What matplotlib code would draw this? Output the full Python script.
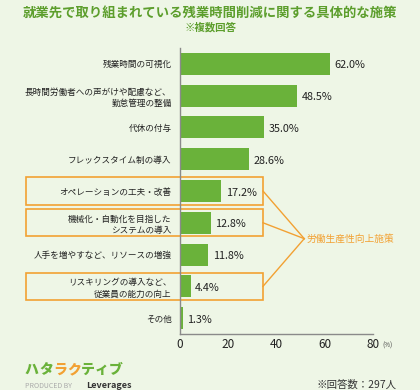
import matplotlib.pyplot as plt
from matplotlib.patches import Rectangle

plt.rcParams['font.family'] = ['Noto Sans CJK JP', 'DejaVu Sans']

# data
labels = ["残業時間の可視化",
          "長時間労働者への声がけや配慮など、\n勤怠管理の整備",
          "代休の付与",
          "フレックスタイム制の導入",
          "オペレーションの工夫・改善",
          "機械化・自動化を目指した\nシステムの導入",
          "人手を増やすなど、リソースの増強",
          "リスキリングの導入など、\n従業員の能力の向上",
          "その他"]
values = [62.0, 48.5, 35.0, 28.6, 17.2, 12.8, 11.8, 4.4, 1.3]
boxed = [4, 5, 7]
xticks = [0, 20, 40, 60, 80]

bg = "#eef6e6"
green = "#6ab23a"
title_green = "#5c9e2c"
orange = "#f2a133"

fig = plt.figure(figsize=(4.2, 3.9), dpi=100)
fig.patch.set_facecolor(bg)
ax = fig.add_axes([180 / 420, 1 - 334 / 390, 193 / 420, 286 / 390])
ax.set_facecolor(bg)

ypos = list(range(len(values)))
ax.barh(ypos, values, height=0.69, color=green)
ax.set_xlim(0, 80)
ax.set_ylim(8.5, -0.5)

for y, v in zip(ypos, values):
    ax.text(v + 1.8, y + 0.05, f"{v:.1f}%", va="center", ha="left",
            fontsize=7.8, color="#222222")

ax.set_yticks(ypos)
ax.set_yticklabels(labels, fontsize=6.2, color="#222222", linespacing=1.35)
ax.set_xticks(xticks)
ax.set_xticklabels([str(t) for t in xticks], fontsize=8.5, color="#222222")
ax.tick_params(length=0, pad=3)
ax.tick_params(axis="y", pad=6)
for s in ["top", "right"]:
    ax.spines[s].set_visible(False)
for s in ["left", "bottom"]:
    ax.spines[s].set_color("#8a8a8a")
    ax.spines[s].set_linewidth(1.0)
ax.annotate("(%)", xy=(80, 8.5), xytext=(7, -8), textcoords="offset points",
            fontsize=4.5, color="#444444", va="center", ha="left",
            annotation_clip=False)

# orange boxes and connectors
x0, x1 = -63.8, 34.4
for r in boxed:
    ax.add_patch(Rectangle((x0, r - 0.43), x1 - x0, 0.86, fill=False,
                           edgecolor=orange, linewidth=1.2, clip_on=False))
    ax.plot([x1, 51.5], [r, 5.5], color=orange, linewidth=1.0, clip_on=False)
ax.text(52.3, 5.5, "労働生産性向上施策", fontsize=7, color=orange,
        va="center", ha="left", clip_on=False)

# titles
fig.text(0.5, 1 - 13 / 390, "就業先で取り組まれている残業時間削減に関する具体的な施策",
         ha="center", va="center", fontsize=9.6, fontweight="bold",
         color=title_green)
fig.text(0.5, 1 - 27 / 390, "※複数回答", ha="center", va="center",
         fontsize=7.5, fontweight="bold", color=title_green)

# logo and footer
logo = ["ハ", "タ", "ラ", "ク", "テ", "ィ", "ブ"]
logo_cols = [green, green, orange, orange, green, green, green]
xs = [25, 39, 53, 67, 81, 95, 109]
for ch, c, x in zip(logo, logo_cols, xs):
    fig.text(x / 420, 1 - 370 / 390, ch, fontsize=10, fontweight="black",
             color=c, ha="left", va="center")
fig.text(25 / 420, 1 - 386 / 390, "PRODUCED BY", fontsize=5, color="#aaaaaa",
         ha="left", va="center")
fig.text(86 / 420, 1 - 386 / 390, "Leverages", fontsize=6.5, color="#333333",
         fontweight="bold", ha="left", va="center")
fig.text(317 / 420, 1 - 385 / 390, "※回答数：297人", fontsize=7.5,
         color="#333333", ha="left", va="center")

fig.savefig("out.png", dpi=100, facecolor=bg)
